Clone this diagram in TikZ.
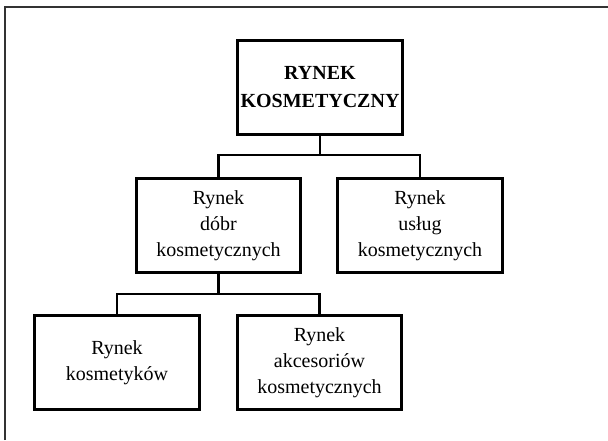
\documentclass[tikz,border=0pt]{standalone}
\usepackage{fontspec}
\setmainfont{Liberation Serif}
\begin{document}
\begin{tikzpicture}[x=1pt,y=-1pt,
  box/.style={draw=black, line width=2.6pt, minimum width=164.5pt, minimum height=94.5pt,
    inner sep=0pt, align=center, font=\fontsize{20}{26}\selectfont},
  link/.style={draw=black, line width=2.6pt},
  frame/.style={draw=black!80, line width=1.4pt}]
  \useasboundingbox (0,0) rectangle (608,440);
  % open frame: left and top edges only
  \draw[frame] (5,440) |- (608,7);

  \node[box, font=\fontsize{20}{28}\selectfont\bfseries] (top) at (320,87.5) {RYNEK\\KOSMETYCZNY};
  \node[box] (dobra) at (218.5,225.5) {Rynek\\dóbr\\kosmetycznych};
  \node[box] (uslugi) at (420,225.5) {Rynek\\usług\\kosmetycznych};
  \node[box] (kosm) at (117,362.5) {Rynek\\kosmetyków};
  \node[box] (akces) at (319.5,362.5) {Rynek\\akcesoriów\\kosmetycznych};

  \coordinate (j1) at (320,155);
  \coordinate (j2) at (218.5,294);
  \draw[link] (top.south) -- (j1);
  \draw[link] (dobra.north) |- (j1) -| (uslugi.north);
  \draw[link] (dobra.south) -- (j2);
  \draw[link] (kosm.north) |- (j2) -| (akces.north);
\end{tikzpicture}
\end{document}
